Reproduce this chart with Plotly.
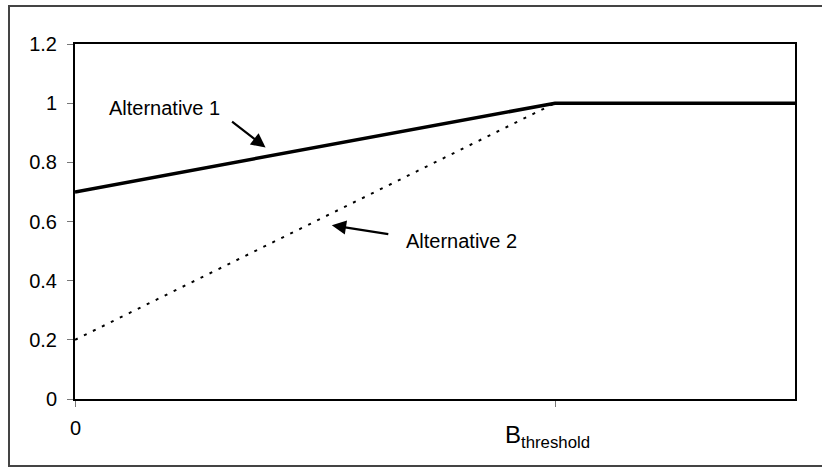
import plotly.graph_objects as go

# ---- data ----
alt1_x = [0, 1, 1.5]
alt1_y = [0.7, 1.0, 1.0]
alt2_x = [0, 1, 1.5]
alt2_y = [0.2, 1.0, 1.0]
series_names = ["Alternative 1", "Alternative 2"]
x_tick_vals = [0, 1]
x_tick_labels = ["0", "B<sub>threshold</sub>"]
y_tick_vals = [0, 0.2, 0.4, 0.6, 0.8, 1.0, 1.2]
y_tick_labels = ["0", "0.2", "0.4", "0.6", "0.8", "1", "1.2"]

FONT = "Liberation Sans, Arial, sans-serif"

fig = go.Figure()
fig.add_trace(go.Scatter(x=alt1_x, y=alt1_y, mode="lines", name=series_names[0],
                         line=dict(color="black", width=3.5)))
fig.add_trace(go.Scatter(x=alt2_x, y=alt2_y, mode="lines", name=series_names[1],
                         line=dict(color="black", width=2, dash="3px,7px")))

annotations = []
# x tick labels as annotations (placed below axis)
x_label_cfg = [dict(y=-0.082, size=20, xshift=0), dict(y=-0.105, size=24, xshift=-8)]
for v, lab, cfg in zip(x_tick_vals, x_tick_labels, x_label_cfg):
    annotations.append(dict(x=v, y=cfg["y"], xref="x", yref="paper", text=lab,
                            showarrow=False, xanchor="center", yanchor="middle",
                            xshift=cfg["xshift"],
                            font=dict(family=FONT, size=cfg["size"], color="black")))

# series labels
annotations.append(dict(x=0.186, y=0.982, xref="x", yref="y", text=series_names[0],
                        showarrow=False, xanchor="center", yanchor="middle",
                        font=dict(family=FONT, size=20, color="black")))
annotations.append(dict(x=0.806, y=0.535, xref="x", yref="y", text=series_names[1],
                        showarrow=False, xanchor="center", yanchor="middle",
                        font=dict(family=FONT, size=20, color="black")))
# arrows
annotations.append(dict(x=0.397, y=0.85, xref="x", yref="y", text="", showarrow=True,
                        ax=-35, ay=-27, arrowhead=2, arrowsize=1.3, arrowwidth=2.2,
                        arrowcolor="black", standoff=0, startstandoff=0))
annotations.append(dict(x=0.535, y=0.587, xref="x", yref="y", text="", showarrow=True,
                        ax=58, ay=9, arrowhead=2, arrowsize=1.3, arrowwidth=2.2,
                        arrowcolor="black", standoff=0, startstandoff=0))

fig.update_layout(
    width=822, height=468,
    margin=dict(l=75, r=27, t=44, b=69),
    paper_bgcolor="white", plot_bgcolor="white",
    showlegend=False,
    font=dict(family=FONT, size=19, color="black"),
    annotations=annotations,
    shapes=[dict(type="rect", xref="paper", yref="paper",
                 x0=(9 - 75) / 720, x1=(830 - 75) / 720,
                 y0=(399 - 466) / 355, y1=(399 - 6) / 355,
                 line=dict(color="#444444", width=2), fillcolor="rgba(0,0,0,0)",
                 layer="below")],
)
fig.update_xaxes(range=[0, 1.5], tickvals=x_tick_vals, ticktext=["", ""],
                 showgrid=False, zeroline=False, showline=True, linecolor="black",
                 linewidth=2, mirror=True, ticks="outside", ticklen=6,
                 tickcolor="#777777", tickwidth=1)
fig.update_yaxes(range=[0, 1.2], tickvals=y_tick_vals, ticktext=y_tick_labels,
                 showgrid=False, zeroline=False, showline=True, linecolor="black",
                 linewidth=2, mirror=True, ticks="outside", ticklen=6,
                 tickcolor="#777777", tickwidth=1, ticklabelstandoff=6,
                 tickfont=dict(family=FONT, size=20, color="black"))

fig.write_html("out.html", config={"displayModeBar": False},
               post_script="document.body.style.margin='0';")
